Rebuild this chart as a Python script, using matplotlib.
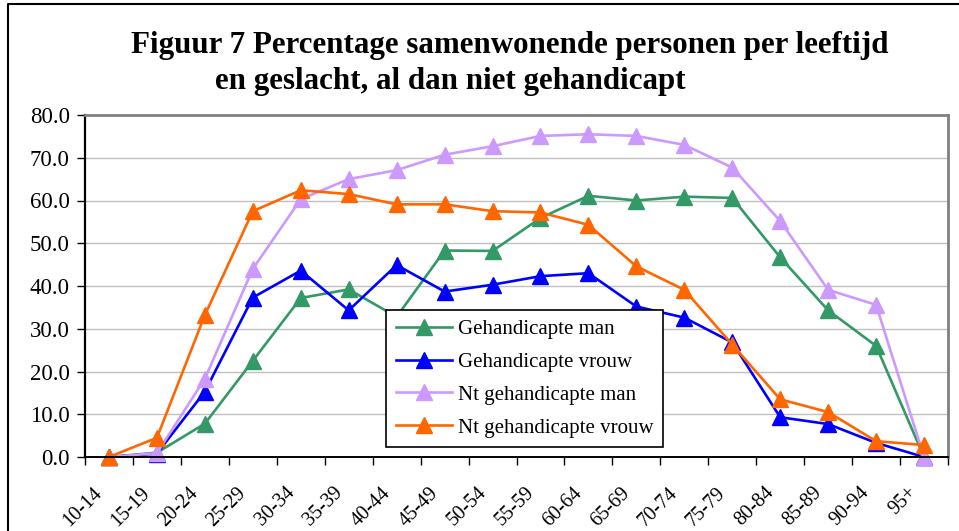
import matplotlib

matplotlib.use("Agg")
import matplotlib.pyplot as plt
import matplotlib.transforms as mtransforms
from matplotlib.lines import Line2D

age_groups = [
    "10-14", "15-19", "20-24", "25-29", "30-34", "35-39", "40-44", "45-49", "50-54",
    "55-59", "60-64", "65-69", "70-74", "75-79", "80-84", "85-89", "90-94", "95+",
]
geh_man = [0.0, 1.0, 7.8, 22.5, 37.2, 39.2, 32.8, 48.3, 48.2, 55.9, 61.1, 60.0, 60.9, 60.6, 46.7, 34.3, 26.0, 0.0]
geh_vrouw = [0.0, 0.8, 15.3, 37.3, 43.6, 34.3, 44.9, 38.7, 40.3, 42.3, 43.0, 35.2, 32.6, 26.8, 9.3, 7.7, 3.3, 0.0]
nt_man = [0.0, 0.9, 18.3, 44.0, 60.3, 65.0, 67.1, 70.7, 72.7, 75.1, 75.5, 75.1, 73.0, 67.7, 55.2, 39.1, 35.6, 0.0]
nt_vrouw = [0.0, 4.5, 33.2, 57.5, 62.4, 61.5, 59.1, 59.1, 57.5, 57.2, 54.3, 44.6, 39.1, 26.3, 13.5, 10.5, 3.7, 2.8]

series = [
    ("Gehandicapte man", geh_man, "#339966"),
    ("Gehandicapte vrouw", geh_vrouw, "#0000FF"),
    ("Nt gehandicapte man", nt_man, "#CC99FF"),
    ("Nt gehandicapte vrouw", nt_vrouw, "#FF6600"),
]

plt.rcParams["font.family"] = ["Liberation Serif", "DejaVu Serif"]

fig = plt.figure(figsize=(9.59, 5.31), dpi=100)
W, H = 959, 531
ax = fig.add_axes([85 / W, 1 - 457 / H, 863 / W, 342 / H])

x = list(range(len(age_groups)))
for label, vals, color in series:
    ax.plot(x, vals, color=color, lw=1.9, marker="^", ms=11, label=label, clip_on=False)

ax.set_xlim(-0.5, len(age_groups) - 0.5)
ax.set_ylim(0, 80)
ax.set_yticks(range(0, 81, 10))
ax.set_yticklabels([f"{v:.1f}" for v in range(0, 81, 10)], fontsize=16.5)
ax.yaxis.grid(True, color="#C0C0C0", lw=1)
ax.set_axisbelow(True)

# ticks on category boundaries, labels on the categories
ax.set_xticks([i - 0.5 for i in range(len(age_groups) + 1)], minor=False)
ax.set_xticklabels([])
ax.set_xticks(x, minor=True)
ax.set_xticklabels(age_groups, minor=True, rotation=45, ha="right",
                   rotation_mode="anchor", fontsize=14.5)
ax.tick_params(axis="x", which="minor", length=0, pad=19)
ax.tick_params(axis="x", which="major", length=6, width=1, direction="out")
ax.tick_params(axis="y", length=6, width=1, pad=5)
shift = mtransforms.ScaledTranslation(-16 / 100, 0, fig.dpi_scale_trans)
for lbl in ax.get_xticklabels(minor=True):
    lbl.set_transform(lbl.get_transform() + shift)

ax.spines["left"].set_linewidth(1.6)
ax.spines["bottom"].set_linewidth(1.4)
for s in ("top", "right"):
    ax.spines[s].set_color("#808080")
    ax.spines[s].set_linewidth(2)

leg = ax.legend(loc="lower left", bbox_to_anchor=(0.349, 0.029), borderaxespad=0,
                fontsize=15, fancybox=False, framealpha=1, edgecolor="black",
                handlelength=2.7, labelspacing=0.64, borderpad=0.45, handletextpad=0.3)
leg.get_frame().set_linewidth(1.2)

fig.text(510 / W, 1 - 45 / H, "Figuur 7 Percentage samenwonende personen per leeftijd",
         ha="center", va="center", fontsize=22.3, fontweight="bold")
fig.text(215 / W, 1 - 81 / H, "en geslacht, al dan niet gehandicapt",
         ha="left", va="center", fontsize=22.3, fontweight="bold")

# outer chart border
fig.add_artist(Line2D([8 / W, 8 / W, 1.0], [0.0, 1 - 4 / H, 1 - 4 / H],
                      transform=fig.transFigure, color="black", lw=1.5))

fig.savefig("out.png", dpi=100)
